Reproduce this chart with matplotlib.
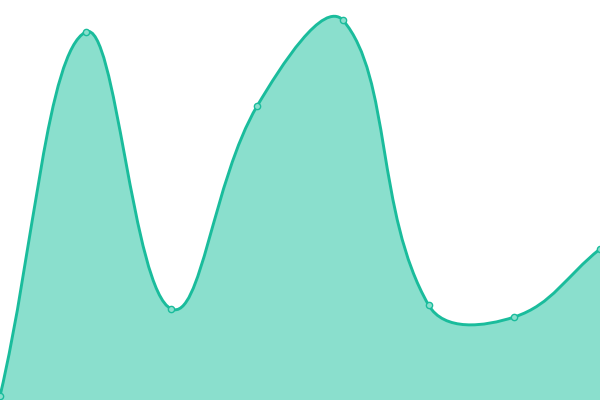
import matplotlib
matplotlib.use('Agg')
import matplotlib.pyplot as plt
from matplotlib.path import Path
from matplotlib.patches import PathPatch
import numpy as np

# data
labels = ['a', 'b', 'c', 'd', 'e', 'f', 'g', 'h']
values = [4, 368, 91, 294, 380, 95, 83, 151]

line_color = '#1abc9c'
fill_color = '#8adfcd'


def spline_points(pts, tension, w, h):
    # bezier control points like a cardinal spline, worked out in pixels
    n = len(pts)
    cps = []
    for i in range(n):
        cur = pts[i]
        prev = pts[i - 1] if i > 0 else cur
        nxt = pts[i + 1] if i < n - 1 else cur
        d01 = np.hypot(*(cur - prev))
        d12 = np.hypot(*(nxt - cur))
        tot = d01 + d12
        s01 = d01 / tot if tot else 0
        s12 = d12 / tot if tot else 0
        fa = tension * s01
        fb = tension * s12
        c_prev = cur - fa * (nxt - prev)
        c_next = cur + fb * (nxt - prev)
        c_prev = np.clip(c_prev, [0, 0], [w, h])
        c_next = np.clip(c_next, [0, 0], [w, h])
        cps.append((c_prev, c_next))
    return cps


fig = plt.figure(figsize=(6, 4), dpi=100)
ax = fig.add_axes([0, 0, 1, 1])
ax.set_xlim(0, len(values) - 1)
ax.set_ylim(0, 400)
ax.axis('off')

x = np.arange(len(values))
disp = ax.transData.transform(np.column_stack([x, values]))
W, H = fig.bbox.width, fig.bbox.height
cps = spline_points(disp, 0.4, W, H)

verts = [disp[0]]
codes = [Path.MOVETO]
for i in range(len(disp) - 1):
    verts += [cps[i][1], cps[i + 1][0], disp[i + 1]]
    codes += [Path.CURVE4] * 3
inv = ax.transData.inverted()
verts = inv.transform(np.array(verts))

line_path = Path(verts, codes)
fill_verts = np.vstack([verts, [[x[-1], 0], [x[0], 0], verts[0]]])
fill_codes = codes + [Path.LINETO, Path.LINETO, Path.CLOSEPOLY]
ax.add_patch(PathPatch(Path(fill_verts, fill_codes), facecolor=fill_color,
                       edgecolor='none', zorder=1))
ax.add_patch(PathPatch(line_path, facecolor='none', edgecolor=line_color,
                       lw=2.1, zorder=2))
ax.plot(x, values, 'o', ms=4.5, mfc=fill_color, mec=line_color, mew=1,
        zorder=3, clip_on=False)

plt.savefig('out.png', dpi=100)
